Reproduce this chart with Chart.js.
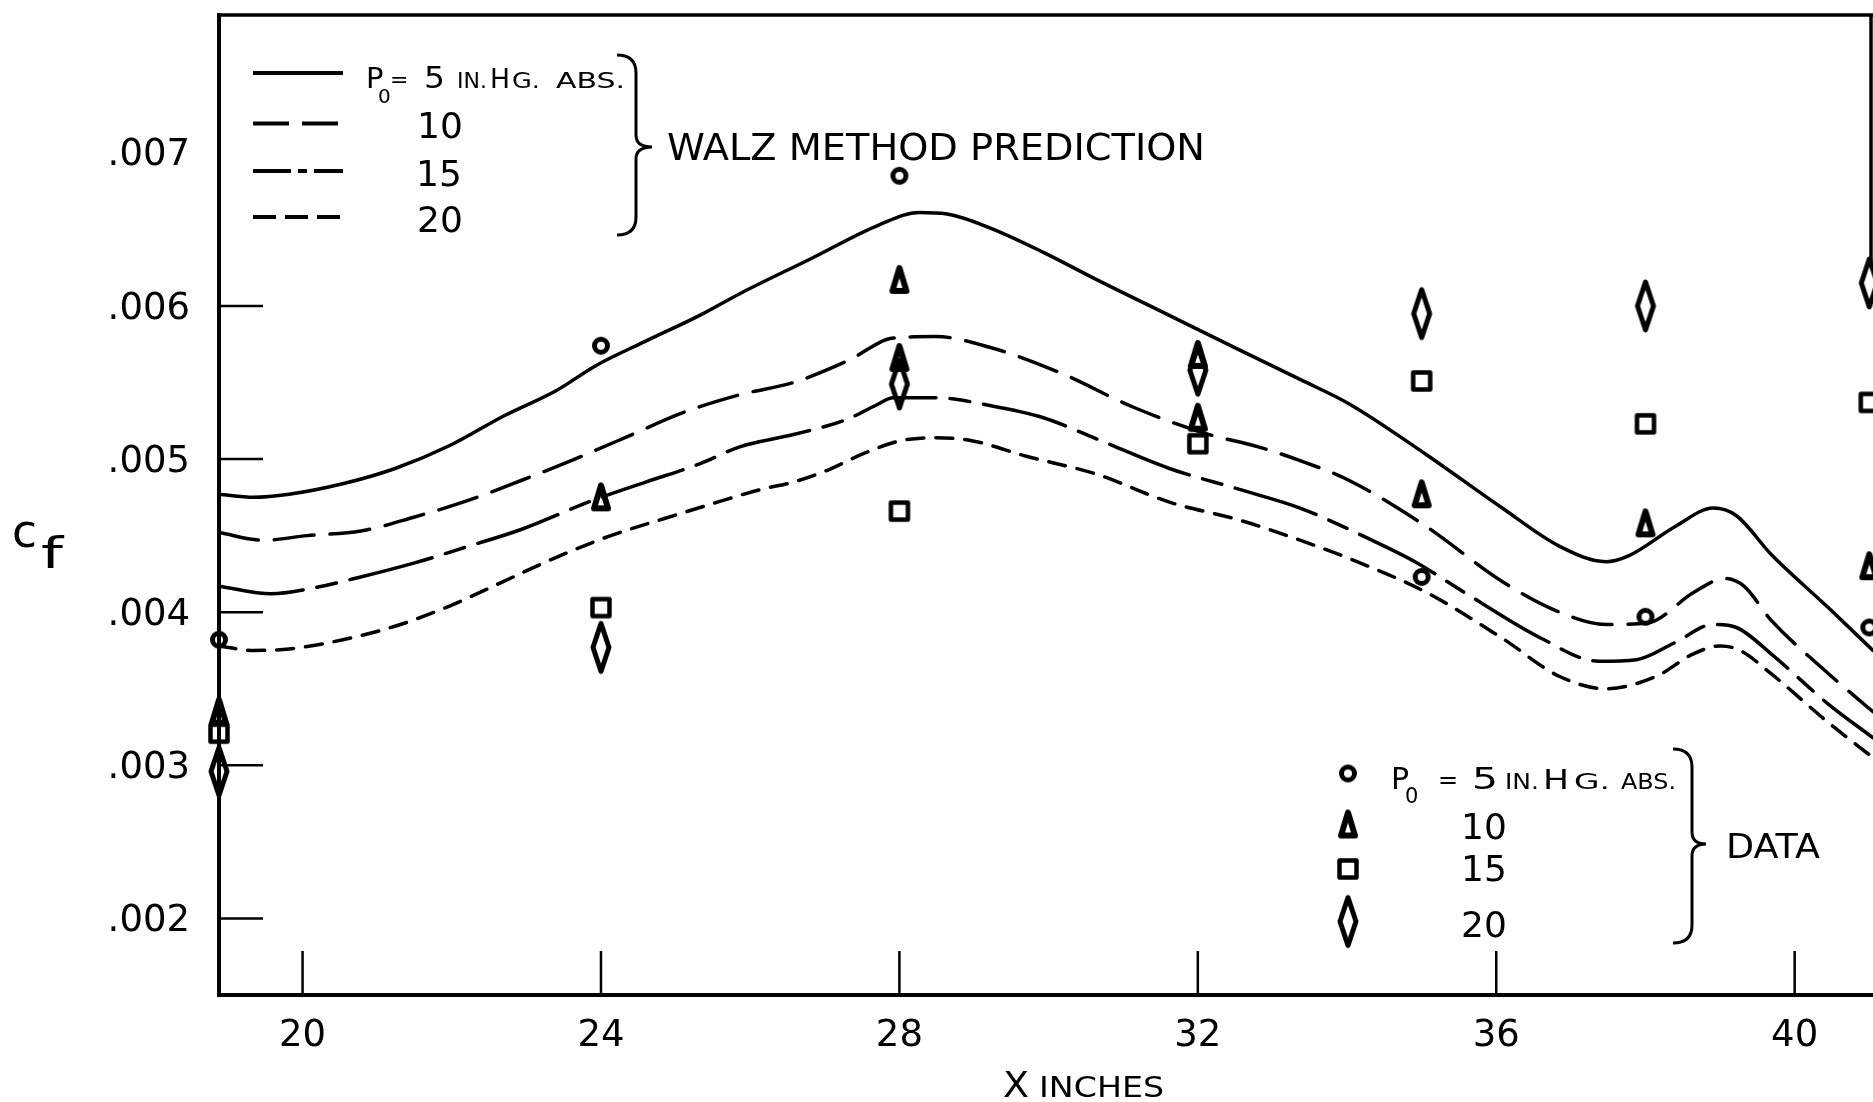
<!DOCTYPE html>
<html>
<head>
<meta charset="utf-8">
<title>Cf vs X inches</title>
<script src="https://cdn.jsdelivr.net/npm/chart.js@4.4.1/dist/chart.umd.min.js"></script>
<style>
  html, body { margin: 0; padding: 0; background: #fff; }
  canvas { display: block; }
</style>
</head>
<body>
<canvas id="cf" width="1873" height="1102"></canvas>
<script>
// Walz method prediction curves, P0 = 5, 10, 15, 20 in. Hg abs.
const walz5X  = [18.88, 19.34, 19.82, 20.55, 21.25, 21.98, 22.69, 23.41, 23.93, 24.60, 25.33, 25.86, 26.82, 27.73, 28.26, 28.64, 29.21, 29.93, 30.65, 31.61, 32.57, 33.37, 34.03, 35.06, 36.08, 36.85, 37.47, 37.78, 38.40, 38.91, 39.22, 39.68, 40.45, 41.05];
const walz5Y  = [0.00477, 0.00475, 0.00477, 0.00484, 0.00494, 0.00509, 0.00528, 0.00545, 0.00561, 0.00577, 0.00594, 0.00608, 0.00631, 0.00653, 0.00661, 0.00660, 0.00651, 0.00635, 0.00617, 0.00594, 0.00571, 0.00552, 0.00536, 0.00503, 0.00468, 0.00443, 0.00433, 0.00437, 0.00456, 0.00468, 0.00463, 0.00438, 0.00403, 0.00375];

const walz10X = [18.88, 19.48, 20.06, 20.78, 21.49, 22.22, 22.93, 23.65, 24.37, 25.08, 25.86, 26.58, 27.30, 27.92, 28.49, 29.21, 30.17, 31.13, 32.08, 32.81, 33.37, 34.03, 35.06, 36.08, 36.85, 37.47, 38.03, 38.65, 39.06, 39.32, 39.68, 40.45, 41.05];
const walz10Y = [0.00452, 0.00447, 0.00450, 0.00453, 0.00462, 0.00473, 0.00486, 0.00500, 0.00515, 0.00530, 0.00542, 0.00550, 0.00564, 0.00579, 0.00580, 0.00573, 0.00556, 0.00534, 0.00517, 0.00508, 0.00499, 0.00486, 0.00456, 0.00420, 0.00400, 0.00392, 0.00393, 0.00413, 0.00422, 0.00417, 0.00395, 0.00360, 0.00335];

const walz15X = [18.88, 19.58, 20.06, 20.78, 21.49, 22.22, 22.93, 23.89, 24.60, 25.33, 25.86, 26.58, 27.30, 27.68, 27.92, 28.49, 29.21, 29.93, 30.65, 31.61, 32.57, 33.37, 34.29, 34.91, 35.57, 36.60, 37.37, 37.88, 38.39, 38.91, 39.22, 39.68, 40.45, 41.05];
const walz15Y = [0.00417, 0.00412, 0.00415, 0.00423, 0.00432, 0.00443, 0.00454, 0.00473, 0.00485, 0.00497, 0.00508, 0.00516, 0.00526, 0.00535, 0.00540, 0.00540, 0.00535, 0.00527, 0.00513, 0.00494, 0.00480, 0.00468, 0.00448, 0.00433, 0.00413, 0.00383, 0.00368, 0.00369, 0.00380, 0.00392, 0.00390, 0.00373, 0.00340, 0.00318];

const walz20X = [18.88, 19.34, 19.82, 20.54, 21.25, 21.97, 22.69, 23.41, 24.13, 24.84, 25.57, 26.13, 26.58, 27.05, 27.54, 28.02, 28.49, 28.97, 29.69, 30.65, 31.61, 32.57, 33.37, 34.03, 35.06, 36.08, 36.85, 37.47, 38.14, 38.65, 39.01, 39.27, 39.68, 40.45, 41.05];
const walz20Y = [0.00378, 0.00375, 0.00376, 0.00382, 0.00391, 0.00404, 0.00420, 0.00436, 0.00450, 0.00461, 0.00472, 0.00480, 0.00485, 0.00493, 0.00504, 0.00512, 0.00514, 0.00512, 0.00502, 0.00490, 0.00472, 0.00460, 0.00447, 0.00435, 0.00413, 0.00383, 0.00358, 0.00350, 0.00358, 0.00373, 0.00378, 0.00375, 0.00360, 0.00328, 0.00305];

// Measured data
const data5X  = [18.88, 24, 28, 35, 38, 41];
const data5Y  = [0.00382, 0.00574, 0.00685, 0.00423, 0.00397, 0.00390];
const data10X = [18.88, 24, 28, 28, 32, 32, 35, 38, 41];
const data10Y = [0.00335, 0.00475, 0.00617, 0.00566, 0.00568, 0.00527, 0.00477, 0.00458, 0.00430];
const data15X = [18.88, 24, 28, 32, 35, 38, 41];
const data15Y = [0.00321, 0.00403, 0.00466, 0.00510, 0.00551, 0.00523, 0.00537];
const data20X = [18.88, 24, 28, 32, 35, 38, 41];
const data20Y = [0.00296, 0.00377, 0.00549, 0.00558, 0.00595, 0.00600, 0.00615];

// Axes
const xTicks = [20, 24, 28, 32, 36, 40];
const yTicks = [0.002, 0.003, 0.004, 0.005, 0.006, 0.007];
const yTickMarks = [0.002, 0.003, 0.004, 0.005, 0.006]; // no mark at .007

const FONT = 'DejaVu Sans';
Chart.defaults.font.family = FONT;
Chart.defaults.color = '#000';

const pts = (xs, ys) => xs.map((x, i) => ({ x, y: ys[i] }));

// hand-lettered marker shapes
function makeMarker(w, h, draw) {
  const c = document.createElement('canvas');
  c.width = w; c.height = h;
  const g = c.getContext('2d');
  g.strokeStyle = '#000';
  g.lineJoin = 'round';
  draw(g);
  return c;
}
const circleMark = makeMarker(22, 22, g => { g.lineWidth = 5; g.beginPath(); g.arc(11, 11, 6.5, 0, Math.PI * 2); g.stroke(); });
const triangleMark = makeMarker(26, 34, g => { g.lineWidth = 6; g.beginPath(); g.moveTo(13, 5); g.lineTo(20, 28); g.lineTo(6, 28); g.closePath(); g.stroke(); });
const squareMark = makeMarker(26, 26, g => { g.lineWidth = 4.5; g.strokeRect(4.5, 4.5, 17, 17); });
const diamondMark = makeMarker(28, 56, g => { g.lineWidth = 5; g.beginPath(); g.moveTo(14, 4); g.lineTo(22, 28); g.lineTo(14, 52); g.lineTo(6, 28); g.closePath(); g.stroke(); });

function markerSet(label, xs, ys, mark) {
  return { label, data: pts(xs, ys), showLine: false, pointStyle: mark, pointRadius: 6, clip: false };
}
function curveSet(label, xs, ys, dash) {
  return {
    label, data: pts(xs, ys), showLine: true, pointRadius: 0,
    borderColor: '#000', borderWidth: 3.5, borderDash: dash, borderCapStyle: 'round',
    cubicInterpolationMode: 'monotone'
  };
}

// text, optionally stretched horizontally to a given width (wide lettering)
function txt(ctx, s, x, y, size, align, width) {
  ctx.save();
  ctx.font = size + 'px "' + FONT + '"';
  ctx.textAlign = align || 'left';
  ctx.textBaseline = 'alphabetic';
  ctx.translate(x, y);
  if (width) ctx.scale(width / ctx.measureText(s).width, 1);
  ctx.fillText(s, 0, 0);
  ctx.restore();
}
function brace(ctx, xHook, xMid, xTip, yTop, yMid, yBot) {
  ctx.beginPath();
  ctx.moveTo(xHook, yTop);
  ctx.quadraticCurveTo(xMid, yTop, xMid, yTop + 18);
  ctx.lineTo(xMid, yMid - 12);
  ctx.quadraticCurveTo(xMid, yMid, xTip, yMid);
  ctx.quadraticCurveTo(xMid, yMid, xMid, yMid + 12);
  ctx.lineTo(xMid, yBot - 18);
  ctx.quadraticCurveTo(xMid, yBot, xHook, yBot);
  ctx.stroke();
}
// "P0 = 5 IN.HG. ABS." — each piece: [text, x, width, size, dy]
function pressureLine(ctx, y, pieces) {
  pieces.forEach(([s, px, w, size, dy]) => txt(ctx, s, px, y + (dy || 0), size, 'left', w));
}

const decorations = {
  id: 'decorations',
  afterDraw(chart) {
    const { ctx, chartArea: a, scales: { x, y } } = chart;
    ctx.save();
    ctx.strokeStyle = '#000';
    ctx.fillStyle = '#000';

    // frame top and right
    ctx.lineWidth = 3.5;
    ctx.beginPath();
    ctx.moveTo(a.left - 2, a.top); ctx.lineTo(a.right, a.top);
    ctx.moveTo(a.right - 2, a.top); ctx.lineTo(a.right - 2, 262);
    ctx.stroke();

    // inward tick marks
    ctx.lineWidth = 2.5;
    ctx.beginPath();
    yTickMarks.forEach(v => { const p = y.getPixelForValue(v); ctx.moveTo(a.left, p); ctx.lineTo(a.left + 44, p); });
    xTicks.forEach(v => { const p = x.getPixelForValue(v); ctx.moveTo(p, a.bottom); ctx.lineTo(p, a.bottom - 44); });
    ctx.stroke();

    // axis titles
    txt(ctx, 'c', 12, 547, 46, 'left', 25);
    txt(ctx, 'f', 41, 568, 42, 'left', 22);
    txt(ctx, 'X', 1003, 1097, 36, 'left', 26);
    txt(ctx, 'INCHES', 1039, 1097, 29, 'left', 125);

    // prediction legend
    ctx.lineWidth = 4;
    const legLines = [[73, []], [123.5, [36, 13]], [171, [38, 7, 9, 7]], [217, [23, 9]]];
    legLines.forEach(([ly, dash]) => {
      ctx.setLineDash(dash);
      ctx.beginPath(); ctx.moveTo(253, ly); ctx.lineTo(343, ly); ctx.stroke();
    });
    ctx.setLineDash([]);
    pressureLine(ctx, 88, [
      ['P', 366, 0, 29], ['0', 378, 0, 20, 15], ['=', 390, 0, 22, -1], ['5', 424, 21, 30],
      ['IN.', 457, 30, 21], ['H', 490, 20, 26], ['G.', 512, 28, 21], ['ABS.', 556, 69, 21]
    ]);
    txt(ctx, '10', 440, 138, 36, 'center');
    txt(ctx, '15', 439, 186, 36, 'center');
    txt(ctx, '20', 440, 232, 36, 'center');
    ctx.lineWidth = 3;
    brace(ctx, 617, 636, 652, 55, 147, 235);
    txt(ctx, 'WALZ METHOD PREDICTION', 667, 160, 38, 'left', 538);

    // data legend
    [[circleMark, 773.5], [triangleMark, 824.5], [squareMark, 869], [diamondMark, 921.5]].forEach(([m, my]) => {
      ctx.drawImage(m, 1348 - m.width / 2, my - m.height / 2);
    });
    pressureLine(ctx, 789, [
      ['P', 1391, 0, 30], ['0', 1405, 0, 21, 14], ['=', 1438, 0, 24, -1], ['5', 1472, 26, 31],
      ['IN.', 1505, 34, 21], ['H', 1543, 26, 27], ['G.', 1574, 36, 21], ['ABS.', 1621, 55, 21]
    ]);
    txt(ctx, '10', 1484, 839, 36, 'center');
    txt(ctx, '15', 1484, 881, 36, 'center');
    txt(ctx, '20', 1484, 937, 36, 'center');
    ctx.lineWidth = 3;
    brace(ctx, 1673, 1692, 1706, 749, 844, 943);
    txt(ctx, 'DATA', 1726, 858, 34, 'left', 94);
    ctx.restore();
  }
};

new Chart(document.getElementById('cf'), {
  type: 'scatter',
  data: {
    datasets: [
      markerSet('5 data', data5X, data5Y, circleMark),
      markerSet('10 data', data10X, data10Y, triangleMark),
      markerSet('15 data', data15X, data15Y, squareMark),
      markerSet('20 data', data20X, data20Y, diamondMark),
      curveSet('5 Walz', walz5X, walz5Y, []),
      curveSet('10 Walz', walz10X, walz10Y, [40, 16]),
      curveSet('15 Walz', walz15X, walz15Y, [85, 14, 20, 14]),
      curveSet('20 Walz', walz20X, walz20Y, [17, 12])
    ]
  },
  options: {
    responsive: false,
    animation: false,
    devicePixelRatio: 1,
    events: [],
    layout: { autoPadding: false, padding: { top: 15, right: 0, bottom: 0, left: 0 } },
    plugins: { legend: { display: false }, tooltip: { enabled: false } },
    scales: {
      x: {
        type: 'linear', min: 18.88, max: 41.05,
        border: { display: true, width: 4, color: '#000' },
        grid: { display: true, drawOnChartArea: false, drawTicks: false },
        ticks: { color: '#000', font: { size: 37 }, padding: 19, autoSkip: false, maxRotation: 0 },
        afterBuildTicks: s => { s.ticks = xTicks.map(v => ({ value: v })); },
        afterFit: s => { s.height = 107; s.paddingLeft = 0; s.paddingRight = 0; }
      },
      y: {
        type: 'linear', min: 0.0015, max: 0.0079,
        border: { display: true, width: 4, color: '#000' },
        grid: { display: true, drawOnChartArea: false, drawTicks: false },
        ticks: {
          color: '#000', font: { size: 37 }, padding: 29, autoSkip: false, labelOffset: 3,
          callback: v => '.' + String(Math.round(v * 1000)).padStart(3, '0')
        },
        afterBuildTicks: s => { s.ticks = yTicks.map(v => ({ value: v })); },
        afterFit: s => { s.width = 219; s.paddingTop = 0; s.paddingBottom = 0; }
      }
    }
  },
  plugins: [decorations]
});
</script>
</body>
</html>
